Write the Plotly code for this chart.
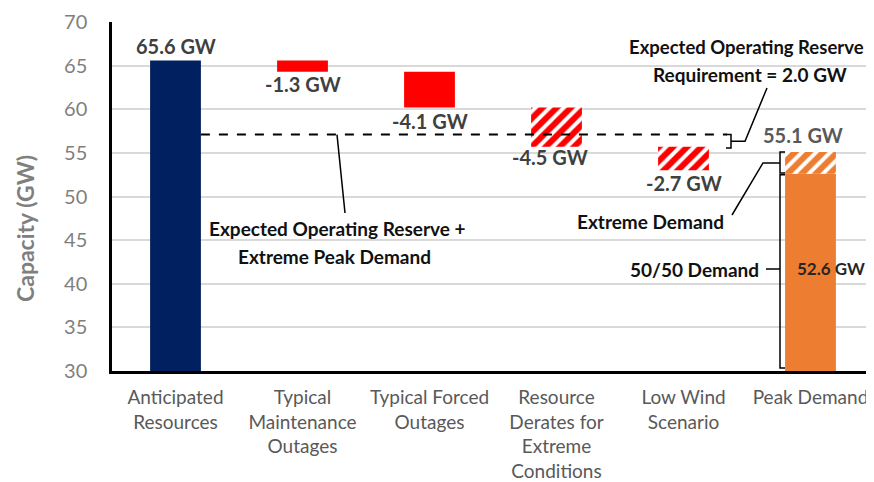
import plotly.graph_objects as go

# ---------------- data ----------------
categories = [
    "Anticipated<br>Resources",
    "Typical<br>Maintenance<br>Outages",
    "Typical Forced<br>Outages",
    "Resource<br>Derates for<br>Extreme<br>Conditions",
    "Low Wind<br>Scenario",
    "Peak Demand",
]
anticipated_resources = 65.6
deltas = [-1.3, -4.1, -4.5, -2.7]          # maintenance, forced, derates, low wind
hatched = [False, False, True, True]
peak_5050 = 52.6
peak_extreme = 55.1
reserve_requirement = 2.0
y_ticks = [30, 35, 40, 45, 50, 55, 60, 65, 70]
y_floor = 30

# ---------------- styling ----------------
NAVY = "#002060"
RED = "#FF0000"
ORANGE = "#ED7D31"
FONT = "Lato"
LABEL = "#404040"
BAR_W = 0.4

# pixel helpers for layout positions (page coords; plot area: x 112..874, y 22..371)
def PX(px):
    return (px - 112) / 762.0

def PY(py):
    return y_floor + (371 - py) / 8.725

fig = go.Figure()

# anticipated resources
fig.add_trace(go.Bar(x=[categories[0]], y=[anticipated_resources - y_floor], base=[y_floor],
                     width=BAR_W, marker=dict(color=NAVY, line=dict(width=0)),
                     hoverinfo="skip", showlegend=False))

# waterfall reductions
level = anticipated_resources
levels_after = []
for i, d in enumerate(deltas):
    new_level = level + d
    levels_after.append(new_level)
    if hatched[i]:
        marker = dict(color=RED, line=dict(width=0),
                      pattern=dict(shape="/", fgcolor="white", bgcolor=RED,
                                   size=10, solidity=0.4, fillmode="replace"))
    else:
        marker = dict(color=RED, line=dict(width=0))
    fig.add_trace(go.Bar(x=[categories[i + 1]], y=[-d], base=[new_level], width=BAR_W,
                         marker=marker, hoverinfo="skip", showlegend=False))
    level = new_level

# peak demand: 50/50 + extreme portion
fig.add_trace(go.Bar(x=[categories[5]], y=[peak_5050 - y_floor], base=[y_floor], width=BAR_W,
                     marker=dict(color=ORANGE, line=dict(width=0)),
                     hoverinfo="skip", showlegend=False))
fig.add_trace(go.Bar(x=[categories[5]], y=[peak_extreme - peak_5050], base=[peak_5050], width=BAR_W,
                     marker=dict(color=ORANGE, line=dict(width=0),
                                 pattern=dict(shape="/", fgcolor="white", bgcolor=ORANGE,
                                              size=10, solidity=0.4, fillmode="replace")),
                     hoverinfo="skip", showlegend=False))

reserve_level = peak_extreme + reserve_requirement

annotations = []
VAL = dict(family=FONT, size=20, color=LABEL)
# value labels
annotations.append(dict(x=categories[0], y=anticipated_resources, xanchor="center", yanchor="bottom", yshift=0,
                        text=f"<b>{anticipated_resources:.1f} GW</b>", font=VAL, showarrow=False))
xshifts = [0, 0, -7, 0]
yshifts = [2, 1, 4, 1]
for i, d in enumerate(deltas):
    annotations.append(dict(x=categories[i + 1], y=levels_after[i], xanchor="center", yanchor="top",
                            xshift=xshifts[i], yshift=yshifts[i],
                            text=f"<b>{d:.1f} GW</b>", font=VAL, showarrow=False))
annotations.append(dict(x=categories[5], y=peak_extreme, xanchor="center", yanchor="bottom", yshift=3, xshift=-8,
                        text=f"<b>{peak_extreme:.1f} GW</b>",
                        font=dict(family=FONT, size=20, color="#595959"), showarrow=False))
annotations.append(dict(xref="paper", x=PX(831), y=PY(268), xanchor="center", yanchor="middle",
                        text=f"<b>{peak_5050:.1f} GW</b>",
                        font=dict(family=FONT, size=17, color="#262626"), showarrow=False))

BLK = dict(family=FONT, size=19, color="#111111")
def note(text, cx, cy, xanchor="center", size=19):
    annotations.append(dict(xref="paper", x=PX(cx), y=PY(cy), xanchor=xanchor, yanchor="middle",
                            text=f"<b>{text}</b>", font=dict(BLK, size=size), showarrow=False))

note("Expected Operating Reserve", 746, 47, size=18.5)
note(f"Requirement = {reserve_requirement:.1f} GW", 750, 74)
note("Expected Operating Reserve +", 337, 228)
note("Extreme Peak Demand", 334, 256)
note("Extreme Demand", 650, 221)
note("50/50 Demand", 761, 269, xanchor="right")

# y-axis title
annotations.append(dict(xref="paper", yref="paper", x=PX(25), y=(371 - 229) / 349.0,
                        xanchor="center", yanchor="middle",
                        text="<b>Capacity (GW)</b>", textangle=-90, showarrow=False,
                        font=dict(family=FONT, size=23, color="#7F7F7F")))

LINE = dict(color="black", width=1.5)
shapes = []
# dashed reserve + extreme peak demand line
shapes.append(dict(type="line", xref="x", yref="y", x0=0 + BAR_W / 2, x1=(727 - 175.5) / 127.0,
                   y0=reserve_level, y1=reserve_level,
                   line=dict(color="black", width=2, dash="dash")))
# leader to "Expected Operating Reserve +"
shapes.append(dict(type="line", xref="paper", yref="y", x0=PX(337), x1=PX(345),
                   y0=reserve_level, y1=PY(213), line=LINE))
# reserve requirement brace + leader
top_b, bot_b = reserve_level, PY(148)
mid_b = (top_b + bot_b) / 2
shapes.append(dict(type="path", xref="paper", yref="y",
                   path=f"M {PX(726)},{top_b} L {PX(731)},{top_b} L {PX(731)},{bot_b} L {PX(726)},{bot_b} "
                        f"M {PX(731)},{mid_b} L {PX(745)},{mid_b} L {PX(767)},{PY(88)}",
                   line=LINE))
# extreme demand small bracket + leader
mid_e = (peak_extreme + peak_5050) / 2
shapes.append(dict(type="path", xref="paper", yref="y",
                   path=f"M {PX(785)},{peak_extreme} L {PX(780)},{peak_extreme} L {PX(780)},{peak_5050 + 0.1} "
                        f"L {PX(785)},{peak_5050 + 0.1} "
                        f"M {PX(780)},{mid_e} L {PX(763)},{mid_e} L {PX(732)},{PY(215)}",
                   line=LINE))
# 50/50 demand large bracket + leader
mid_d = PY(269)
shapes.append(dict(type="path", xref="paper", yref="y",
                   path=f"M {PX(785)},{peak_5050 - 0.1} L {PX(780)},{peak_5050 - 0.1} L {PX(780)},{y_floor + 0.35} "
                        f"L {PX(785)},{y_floor + 0.35} "
                        f"M {PX(780)},{mid_d} L {PX(766)},{mid_d}",
                   line=LINE))

# page has an 8px body margin: figure is 866x474 so it fits the 874x482 window
fig.update_layout(
    width=866, height=474,
    margin=dict(l=104, r=0, t=14, b=111),
    paper_bgcolor="white", plot_bgcolor="white",
    barmode="overlay",
    showlegend=False,
    annotations=annotations,
    shapes=shapes,
    xaxis=dict(categoryorder="array", categoryarray=categories, range=[-0.5, 5.5],
               showline=True, linecolor="black", linewidth=3, showgrid=False,
               tickfont=dict(family=FONT, size=19, color="#595959"), ticks="",
               ticklabelstandoff=7),
    yaxis=dict(range=[30, 70], tickvals=y_ticks, showgrid=True, gridcolor="#D9D9D9", gridwidth=1.5,
               showline=True, linecolor="black", linewidth=2.5, zeroline=False,
               tickfont=dict(family=FONT, size=20, color="#7F7F7F"), ticklabelstandoff=18),
)

fig.write_html("out.html")
